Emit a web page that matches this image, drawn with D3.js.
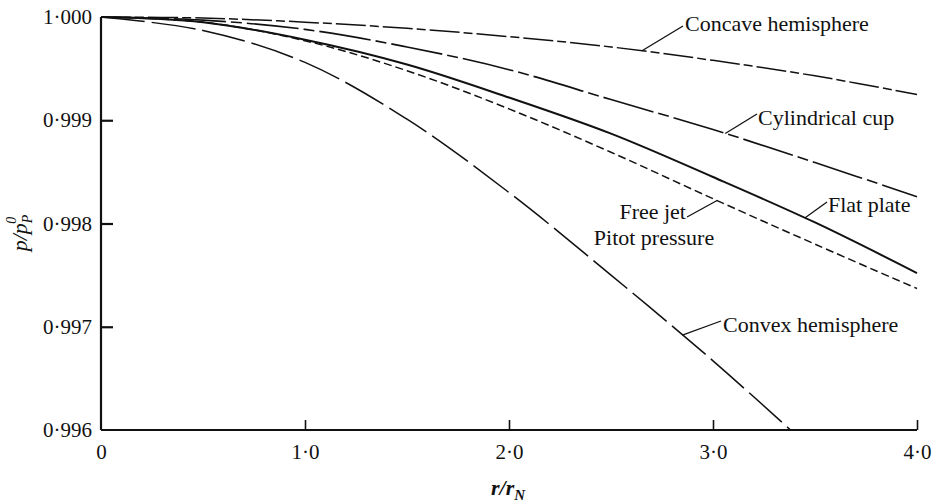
<!DOCTYPE html>
<html>
<head>
<meta charset="utf-8">
<script src="https://cdn.jsdelivr.net/npm/d3@7/dist/d3.min.js"></script>
<style>
  html, body { margin: 0; padding: 0; background: #fff; }
  svg { display: block; }
  svg text { font-family: "Liberation Serif", "Times New Roman", Times, "DejaVu Serif", serif !important; fill: #111; }
</style>
</head>
<body>
<svg id="chart" width="935" height="504"></svg>
<script>
// Radial position r/r_N at which each curve is tabulated
const rGrid = [0, 0.5, 1.0, 1.5, 2.0, 2.5, 3.0, 3.5, 4.0];
const rConvex = [0, 0.5, 1.0, 1.5, 2.0, 2.5, 3.0, 3.38];

// Surface pressure ratio p / p_P^0
const concaveHemisphere = [1.00000, 0.99999, 0.99995, 0.99989, 0.99981, 0.99971, 0.99958, 0.99943, 0.99925];
const cylindricalCup    = [1.00000, 0.99997, 0.99988, 0.99971, 0.99949, 0.99920, 0.99891, 0.99859, 0.99826];
const flatPlate         = [1.00000, 0.99995, 0.99978, 0.99954, 0.99922, 0.99887, 0.99845, 0.99801, 0.99752];
const freeJetPitot      = [1.00000, 0.99995, 0.99977, 0.99948, 0.99911, 0.99869, 0.99824, 0.99780, 0.99737];
const convexHemisphere  = [1.00000, 0.99987, 0.99956, 0.99901, 0.99830, 0.99750, 0.99667, 0.99600];

// Axis ticks
const xTicks = [0, 1.0, 2.0, 3.0, 4.0];
const xTickLabels = ["0", "1·0", "2·0", "3·0", "4·0"];
const yTicks = [1.000, 0.999, 0.998, 0.997, 0.996];
const yTickLabels = ["1·000", "0·999", "0·998", "0·997", "0·996"];

const SERIF = "'Liberation Serif', 'Times New Roman', Times, 'DejaVu Serif', serif";

const svg = d3.select("#chart").style("font-family", SERIF);
const x = d3.scaleLinear().domain([0, 4]).range([101, 917]);
const y = d3.scaleLinear().domain([0.996, 1.0]).range([430, 17]);

const series = [
  { name: "concave", r: rGrid,   p: concaveHemisphere, dash: "30,4,9,4", width: 1.5 },
  { name: "cup",     r: rGrid,   p: cylindricalCup,    dash: "52,5,11,5", width: 1.6 },
  { name: "flat",    r: rGrid,   p: flatPlate,         dash: null,       width: 2.0 },
  { name: "freejet", r: rGrid,   p: freeJetPitot,      dash: "8,4",      width: 1.5 },
  { name: "convex",  r: rConvex, p: convexHemisphere,  dash: "44,7",     width: 1.5 }
];

const line = d3.line()
  .x(d => x(d[0]))
  .y(d => y(d[1]))
  .curve(d3.curveCatmullRom.alpha(0.5));

svg.append("g").selectAll("path")
  .data(series)
  .join("path")
  .attr("d", s => line(s.r.map((r, i) => [r, s.p[i]])))
  .attr("fill", "none")
  .attr("stroke", "#111")
  .attr("stroke-width", s => s.width)
  .attr("stroke-dasharray", s => s.dash);

// Axes: ticks point inward, no box on top or right
const xAxis = d3.axisBottom(x)
  .tickValues(xTicks)
  .tickFormat((d, i) => xTickLabels[i])
  .tickSizeInner(-10)
  .tickSizeOuter(0)
  .tickPadding(14);
const gx = svg.append("g").attr("transform", `translate(0,${y(0.996)})`).call(xAxis)
  .attr("font-family", SERIF);
gx.select(".domain").attr("stroke", "#111").attr("stroke-width", 2.2).attr("d", `M${x(0)},0H${x(4)}`);
gx.selectAll(".tick line").attr("stroke", "#111").attr("stroke-width", 1.6)
  .attr("display", d => d === 0 ? "none" : null);
gx.selectAll(".tick text").attr("font-size", 21).attr("fill", "#111");

const yAxis = d3.axisLeft(y)
  .tickValues(yTicks)
  .tickFormat((d, i) => yTickLabels[i])
  .tickSizeInner(-12)
  .tickSizeOuter(0)
  .tickPadding(22);
const gy = svg.append("g").attr("transform", `translate(${x(0)},0)`).call(yAxis)
  .attr("font-family", SERIF);
gy.select(".domain").attr("stroke", "#111").attr("stroke-width", 2.2).attr("d", `M0,${y(1.0)}V${y(0.996)}`);
gy.selectAll(".tick line").attr("stroke", "#111").attr("stroke-width", 2.2)
  .attr("display", d => (d === 1.0 || d === 0.996) ? "none" : null);
gy.selectAll(".tick text").attr("font-size", 21).attr("fill", "#111").attr("x", -9);

// Axis titles
const xt = svg.append("text")
  .attr("x", 508).attr("y", 495)
  .attr("text-anchor", "middle")
  .attr("font-size", 22).attr("font-style", "italic").attr("font-weight", "bold");
xt.append("tspan").text("r/r");
xt.append("tspan").attr("font-size", 15).attr("dy", 5).text("N");

const yt = svg.append("text")
  .attr("transform", "translate(27,233) rotate(-90)")
  .attr("text-anchor", "middle")
  .attr("font-size", 22).attr("font-style", "italic");
yt.append("tspan").text("p/p");
yt.append("tspan").attr("font-size", 14).attr("dy", 5).text("P");
yt.append("tspan").attr("font-size", 14).attr("dx", -9).attr("dy", -16).text("0");

// Curve labels with leader lines
const notes = [
  { r: 2.65, p: concaveHemisphere, rr: rGrid,   lx: 683, ly: 26,  tx: 685, ty: 31,  anchor: "start", label: "Concave hemisphere" },
  { r: 3.06, p: cylindricalCup,    rr: rGrid,   lx: 757, ly: 114, tx: 758, ty: 125, anchor: "start", label: "Cylindrical cup" },
  { r: 3.45, p: flatPlate,         rr: rGrid,   lx: 827, ly: 202, tx: 828, ty: 212, anchor: "start", label: "Flat plate" },
  { r: 3.02, p: freeJetPitot,      rr: rGrid,   lx: 687, ly: 217, tx: 686, ty: 219, anchor: "end",   label: "Free jet" },
  { r: 2.85, p: convexHemisphere,  rr: rConvex, lx: 721, ly: 321, tx: 723, ty: 332, anchor: "start", label: "Convex hemisphere" }
];

// Interpolated value along a curve, for anchoring a leader line on it
function valueAt(rr, pp, r) {
  return d3.scaleLinear().domain(rr).range(pp)(r);
}

notes.forEach(n => {
  svg.append("line")
    .attr("x1", x(n.r)).attr("y1", y(valueAt(n.rr, n.p, n.r)))
    .attr("x2", n.lx).attr("y2", n.ly)
    .attr("stroke", "#111").attr("stroke-width", 1.3);
  svg.append("text")
    .attr("x", n.tx).attr("y", n.ty)
    .attr("text-anchor", n.anchor)
    .attr("font-size", 22)
    .text(n.label);
});

svg.append("text")
  .attr("x", 654).attr("y", 245)
  .attr("text-anchor", "middle")
  .attr("font-size", 22)
  .text("Pitot pressure");
</script>
</body>
</html>
